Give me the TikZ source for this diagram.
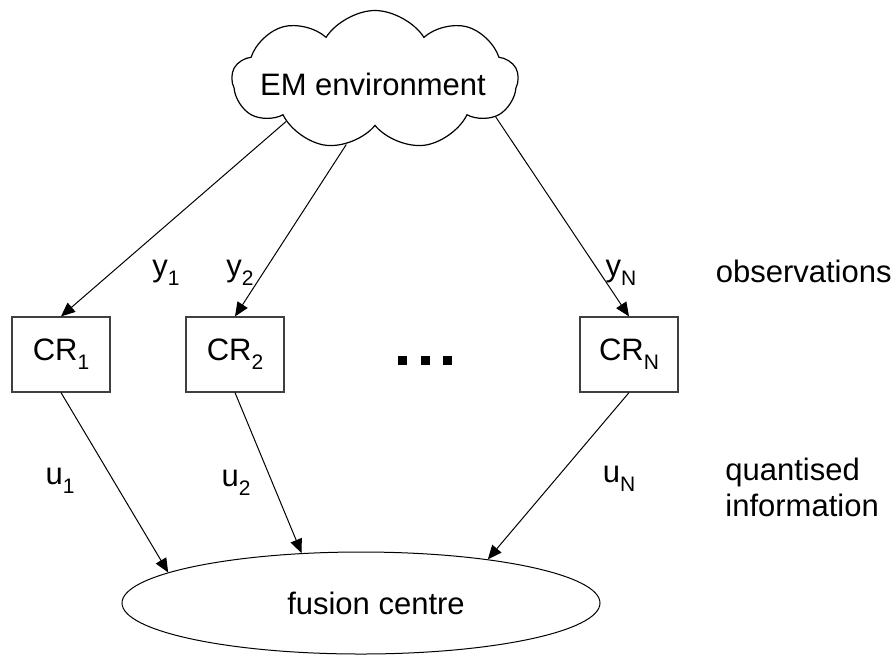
\documentclass[tikz,border=0pt]{standalone}
\usepackage{fontspec}
\setmainfont{Liberation Sans}
\usetikzlibrary{shapes.geometric,shapes.symbols,arrows.meta}
\newcommand{\lowidx}[1]{\raisebox{-0.55ex}{\fontsize{10.5}{12}\selectfont #1}}

\begin{document}
\begin{tikzpicture}[x=0.5pt,y=-0.5pt,
  font=\fontsize{15.5}{18}\selectfont,
  crbox/.style={draw=black!75, line width=0.6pt, minimum width=49pt, minimum height=37.5pt, inner sep=0pt},
  link/.style={line width=0.5pt, -{Triangle[length=7pt,width=6pt]}}]
  % page size of the reference
  \useasboundingbox (0,0) rectangle (893,654);

  % environment and fusion centre
  \node[cloud, draw, line width=0.6pt, cloud puffs=9, cloud puff arc=115, aspect=1.3,
        minimum width=143pt, minimum height=69.5pt, inner sep=0pt] (em) at (375,80) {};
  \node at (373,84) {EM environment};
  \node[ellipse, draw, line width=0.5pt, minimum width=239pt, minimum height=51pt, inner sep=0pt] (fc) at (361,603) {};
  \node at (376,603) {fusion centre};

  % the radios
  \node[crbox] (cr1) at (61,354.5) {CR\lowidx{1}};
  \node[crbox] (cr2) at (235,354.5) {CR\lowidx{2}};
  \node[crbox] (crn) at (629,354.5) {CR\lowidx{N}};
  \fill[black] (398,355.5) rectangle ++(9,9);
  \fill[black] (420.5,355.5) rectangle ++(9,9);
  \fill[black] (443,355.5) rectangle ++(9,9);

  % observations
  \draw[link] (em.205) -- (cr1.north);
  \draw[link] (em.246) -- (cr2.north);
  \draw[link] (em.343) -- (crn.north);
  \node (y1) at (166,273) {y\lowidx{1}};
  \node (y2) at (240,273) {y\lowidx{2}};
  \node (yn) at (621,273) {y\lowidx{N}};
  \node[left, inner sep=0pt] (obs) at (892,271) {observations};

  % quantised decisions
  \draw[link] (cr1.south) -- (fc.171);
  \draw[link] (cr2.south) -- (fc.140);
  \draw[link] (crn.south) -- (fc.19);
  \node (u1) at (60,481) {u\lowidx{1}};
  \node (u2) at (236,483) {u\lowidx{2}};
  \node (un) at (619,479) {u\lowidx{N}};
  \node[right, inner sep=0pt, align=left] (qi) at (725,487) {quantised\\information};
\end{tikzpicture}
\end{document}
